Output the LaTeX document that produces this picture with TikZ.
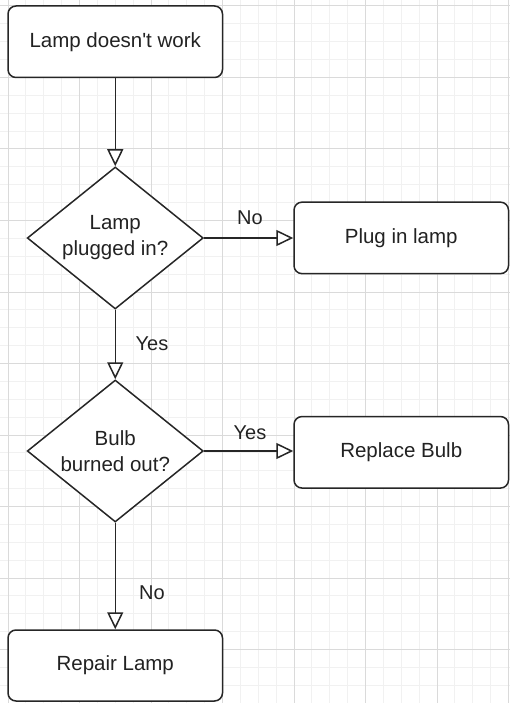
\documentclass[tikz,border=0pt]{standalone}
\usepackage{fontspec}
\setmainfont{Liberation Sans}
\newfontfamily\plainsans{Liberation Sans}
\usetikzlibrary{shapes.geometric,arrows.meta}
\definecolor{txt}{HTML}{222222}
\definecolor{gridminor}{HTML}{F1F1F1}
\definecolor{gridmajor}{HTML}{DADADA}
\tikzset{
  box/.style={draw=black!85, line width=1.5pt, rounded corners=8pt, fill=white,
    minimum width=214.5pt, minimum height=71.5pt, inner sep=0pt,
    font=\plainsans\fontsize{20.5}{26}\selectfont, text=txt},
  decision/.style={diamond, draw=black!85, line width=1.5pt, fill=white,
    minimum width=176pt, minimum height=142pt, aspect=1.24, inner sep=0pt},
  dtext/.style={align=center, font=\plainsans\fontsize{20.5}{26}\selectfont, text=txt},
  flow/.style={draw=black!85, line width=1.5pt,
    -{Triangle[width=16pt,length=17pt,fill=white]}},
  lbl/.style={font=\plainsans\fontsize{20}{24}\selectfont, text=txt, inner sep=0pt},
  minorline/.style={draw=gridminor, line width=1pt},
  majorline/.style={draw=gridmajor, line width=1pt}
}
\begin{document}
\begin{tikzpicture}[x=1pt,y=-1pt]
\useasboundingbox (0,0) rectangle (510,703);
\fill[white] (0,0) rectangle (510,703);
% grid
\foreach \i in {0,...,28} {\draw[minorline] ({8+\i*17.875},0) -- ({8+\i*17.875},703);}
\foreach \i in {0,...,39} {\draw[minorline] (0,{6+\i*17.875}) -- (510,{6+\i*17.875});}
\foreach \i in {0,...,7} {\draw[majorline] ({8+\i*71.5},0) -- ({8+\i*71.5},703);}
\foreach \i in {0,...,9} {\draw[majorline] (0,{6+\i*71.5}) -- (510,{6+\i*71.5});}
% nodes
\node[box] (lamp) at (115.25,41.75) {Lamp doesn'{}t work};
\node[decision, label={[dtext]center:Lamp\\plugged in?}] (d1) at (115.25,238) {};
\node[box] (plug) at (401.25,237.9) {Plug in lamp};
\node[decision, label={[dtext]center:Bulb\\burned out?}] (d2) at (115.25,451) {};
\node[box] (bulb) at (401.25,452.3) {Replace Bulb};
\node[box, minimum height=71pt] (repair) at (115.25,665.5) {Repair Lamp};
% connectors
\draw[flow] (lamp.south) -- (d1.north);
\draw[flow] (d1.east) -- (plug.west |- d1.east);
\draw[flow] (d1.south) -- (d2.north);
\draw[flow] (d2.east) -- (bulb.west |- d2.east);
\draw[flow] (d2.south) -- (repair.north);
% labels
\node[lbl] (lno1) at (250,218) {No};
\node[lbl] (lyes1) at (152,344) {Yes};
\node[lbl] (lyes2) at (250,433) {Yes};
\node[lbl] (lno2) at (152,593) {No};
\end{tikzpicture}
\end{document}
